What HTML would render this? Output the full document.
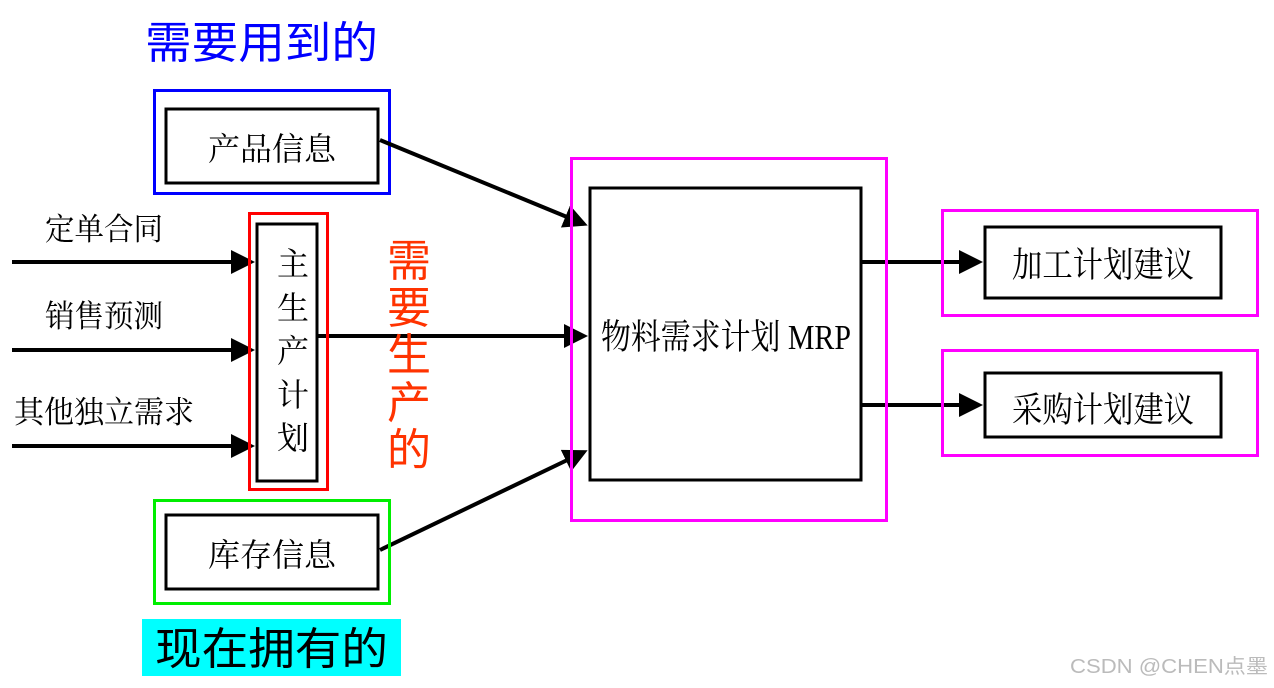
<!DOCTYPE html>
<html><head><meta charset="utf-8"><style>
html,body{margin:0;padding:0;background:#fff;width:1274px;height:688px;overflow:hidden}
svg{display:block}
.s{font-family:"Liberation Serif","Noto Serif CJK SC",serif;fill:#000}
.n{font-family:"Liberation Sans","Noto Sans CJK SC",sans-serif}
</style></head><body>
<svg width="1274" height="688" viewBox="0 0 1274 688" xmlns="http://www.w3.org/2000/svg">
<defs><marker id="a" markerWidth="6" markerHeight="6" refX="5" refY="3" orient="auto" markerUnits="strokeWidth"><path d="M0,0 L6,3 L0,6 z" fill="#000"/></marker></defs>
<text x="145" y="58" class="n" font-size="44" fill="#0000ff" textLength="233" lengthAdjust="spacingAndGlyphs">需要用到的</text>
<rect x="154.5" y="90.5" width="235" height="103" fill="none" stroke="#0000ff" stroke-width="3"/>
<rect x="166" y="109" width="212" height="74" fill="#fff" stroke="#000" stroke-width="3"/>
<text x="272" y="160" class="s" font-size="32" text-anchor="middle">产品信息</text>

<text x="45" y="240" class="s" font-size="31" textLength="118" lengthAdjust="spacingAndGlyphs">定单合同</text>
<text x="45" y="327" class="s" font-size="31" textLength="118" lengthAdjust="spacingAndGlyphs">销售预测</text>
<text x="14" y="423" class="s" font-size="31" textLength="180" lengthAdjust="spacingAndGlyphs">其他独立需求</text>
<g stroke="#000" stroke-width="4" marker-end="url(#a)">
<line x1="12" y1="262" x2="251" y2="262"/>
<line x1="12" y1="350" x2="251" y2="350"/>
<line x1="12" y1="446" x2="251" y2="446"/>
<line x1="318" y1="336" x2="584" y2="336"/>
<line x1="380" y1="140" x2="584" y2="224"/>
<line x1="380" y1="550" x2="584" y2="452"/>
<line x1="862" y1="262" x2="979" y2="262"/>
<line x1="862" y1="405" x2="979" y2="405"/>
</g>
<rect x="249.5" y="213.5" width="78" height="276" fill="none" stroke="#ff0000" stroke-width="3"/>
<rect x="257" y="224" width="60" height="257" fill="#fff" stroke="#000" stroke-width="3"/>
<g class="s" font-size="32" text-anchor="middle">
<text x="293" y="275">主</text><text x="293" y="319">生</text><text x="293" y="362">产</text><text x="293" y="406">计</text><text x="293" y="449">划</text>
</g>
<g class="n" font-size="44" fill="#ff3300" text-anchor="middle">
<text x="409" y="276">需</text><text x="409" y="323">要</text><text x="409" y="370">生</text><text x="409" y="418">产</text><text x="409" y="465">的</text>
</g>

<rect x="571.5" y="158.5" width="315" height="362" fill="none" stroke="#ff00ff" stroke-width="3"/>
<rect x="590" y="188" width="271" height="292" fill="none" stroke="#000" stroke-width="3"/>
<text x="726" y="349" class="s" font-size="35" text-anchor="middle" textLength="250" lengthAdjust="spacingAndGlyphs">物料需求计划 MRP</text>

<rect x="942.5" y="210.5" width="315" height="105" fill="none" stroke="#ff00ff" stroke-width="3"/>
<rect x="985" y="227" width="236" height="71" fill="#fff" stroke="#000" stroke-width="3"/>
<text x="1103" y="277" class="s" font-size="35" text-anchor="middle" textLength="182" lengthAdjust="spacingAndGlyphs">加工计划建议</text>
<rect x="942.5" y="350.5" width="315" height="105" fill="none" stroke="#ff00ff" stroke-width="3"/>
<rect x="985" y="373" width="236" height="64" fill="#fff" stroke="#000" stroke-width="3"/>
<text x="1103" y="422" class="s" font-size="35" text-anchor="middle" textLength="182" lengthAdjust="spacingAndGlyphs">采购计划建议</text>

<rect x="154.5" y="500.5" width="235" height="103" fill="none" stroke="#00ee00" stroke-width="3"/>
<rect x="166" y="515" width="212" height="74" fill="#fff" stroke="#000" stroke-width="3"/>
<text x="272" y="566" class="s" font-size="32" text-anchor="middle">库存信息</text>

<rect x="142" y="619" width="259" height="57" fill="#00ffff"/>
<text x="155" y="664" class="n" font-size="44" textLength="233" lengthAdjust="spacingAndGlyphs">现在拥有的</text>

<text x="1070" y="673" class="n" font-size="20" fill="#bbb" textLength="198" lengthAdjust="spacingAndGlyphs">CSDN @CHEN点墨</text>
</svg>
</body></html>
